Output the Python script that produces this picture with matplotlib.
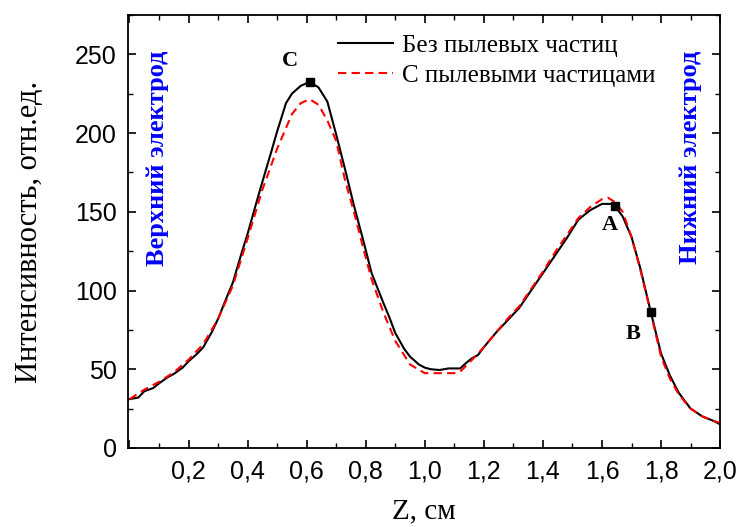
import matplotlib
matplotlib.use("Agg")
import matplotlib.pyplot as plt
from matplotlib.ticker import MultipleLocator, FuncFormatter

# Профиль без пылевых частиц
z_black = [0.00, 0.03, 0.05, 0.08, 0.10, 0.13, 0.15, 0.18, 0.20, 0.23, 0.25,
           0.28, 0.30, 0.33, 0.35, 0.38, 0.40, 0.43, 0.45, 0.48, 0.50, 0.53,
           0.55, 0.58, 0.61, 0.64, 0.67, 0.70, 0.73, 0.76, 0.79, 0.82, 0.86,
           0.88, 0.90, 0.93, 0.95, 0.98, 1.00, 1.02, 1.05, 1.08, 1.12, 1.14,
           1.16, 1.18, 1.20, 1.24, 1.28, 1.32, 1.36, 1.40, 1.44, 1.48, 1.52,
           1.56, 1.60, 1.63, 1.645, 1.67, 1.70, 1.73, 1.765, 1.80, 1.83, 1.86,
           1.88, 1.90, 1.94, 1.98, 2.00]
i_black = [31, 32, 36, 38, 41, 45, 47, 51, 55, 60, 64,
           74, 82, 96, 105, 124, 136, 156, 169, 188, 201, 219,
           225, 230, 232.5, 229, 220, 199, 177, 154, 133, 111, 92,
           83, 73, 63, 58, 53, 51, 50, 49.5, 50.5, 50.5, 54,
           57, 59, 64, 73, 81, 89, 100, 111, 122, 133, 145,
           151, 155, 155, 153.5, 147, 134, 114, 86.5, 60, 46, 35,
           30, 25, 20, 17, 15]

# Профиль с пылевыми частицами
z_red = [0.00, 0.05, 0.10, 0.15, 0.20, 0.25, 0.30, 0.35, 0.40, 0.45, 0.50,
         0.55, 0.58, 0.61, 0.64, 0.67, 0.70, 0.73, 0.76, 0.79, 0.82, 0.86,
         0.90, 0.95, 1.00, 1.05, 1.10, 1.12, 1.16, 1.20, 1.24, 1.28, 1.32,
         1.36, 1.40, 1.44, 1.48, 1.52, 1.56, 1.60, 1.62, 1.645, 1.67, 1.70,
         1.73, 1.765, 1.80, 1.83, 1.86, 1.90, 1.94, 1.98, 2.00]
i_red = [31, 37, 42, 48, 56, 66, 82, 103, 133, 164, 190,
         212, 219, 221.5, 218, 208, 195, 170, 150, 128, 107, 86,
         68, 53, 47.5, 47.5, 47.5, 48.5, 56, 64, 73, 82, 90,
         101, 112, 124, 135, 146, 153, 158, 159, 156, 150, 134,
         113, 86, 58, 44, 34, 25, 20, 17, 16]

# Отмеченные точки
pt_labels = ["C", "A", "B"]
pt_z = [0.612, 1.645, 1.765]
pt_i = [232.5, 153.5, 86.5]

serif = ["Liberation Serif", "DejaVu Serif"]
sans = ["Liberation Sans", "DejaVu Sans"]

fig = plt.figure(figsize=(7.42, 5.27), dpi=100)
ax = fig.add_axes([0.1725, 0.15, 0.798, 0.8216])

ax.plot(z_black, i_black, color="black", lw=1.5, label="Без пылевых частиц")
ax.plot(z_red, i_red, color="red", lw=1.5, ls=(0, (4, 2.5)), label="С пылевыми частицами")
ax.plot(pt_z, pt_i, "s", color="black", ms=6)

offsets = {"C": (-0.07, 13), "A": (-0.02, -12), "B": (-0.06, -14)}
for lab, zz, ii in zip(pt_labels, pt_z, pt_i):
    dx, dy = offsets[lab]
    ax.text(zz + dx, ii + dy, lab, family=serif, fontsize=16, fontweight="bold",
            ha="center", va="center")

ax.text(0.05, 0.67, "Верхний электрод", transform=ax.transAxes, rotation=90,
        color="blue", family=serif, fontsize=19, fontweight="bold",
        ha="center", va="center")
ax.text(0.95, 0.67, "Нижний электрод", transform=ax.transAxes, rotation=90,
        color="blue", family=serif, fontsize=19, fontweight="bold",
        ha="center", va="center")

ax.set_xlim(-0.005, 2.0)
ax.set_ylim(0, 275)
ax.xaxis.set_major_locator(MultipleLocator(0.2))
ax.xaxis.set_minor_locator(MultipleLocator(0.1))
ax.yaxis.set_major_locator(MultipleLocator(50))
ax.yaxis.set_minor_locator(MultipleLocator(25))
ax.xaxis.set_major_formatter(FuncFormatter(
    lambda v, p: "" if abs(v) < 1e-9 else f"{v:.1f}".replace(".", ",")))
ax.tick_params(which="both", direction="in", top=True, right=True)
ax.tick_params(which="major", length=6, width=1.2, labelsize=18, pad=8)
ax.tick_params(which="minor", length=3.5, width=1.0)
for lbl in ax.get_xticklabels() + ax.get_yticklabels():
    lbl.set_family(sans)
for s in ax.spines.values():
    s.set_linewidth(1.3)

ax.set_xlabel("Z, см", family=serif, fontsize=21, labelpad=11)
ax.set_ylabel("Интенсивность, отн.ед.", family=serif, fontsize=22, labelpad=22)

ax.legend(loc="upper left", bbox_to_anchor=(0.355, 0.955), frameon=False,
          prop={"family": serif, "size": 18}, handlelength=2.2,
          handletextpad=0.35, labelspacing=0.3, borderpad=0, borderaxespad=0)

fig.savefig("out.png", dpi=100)
